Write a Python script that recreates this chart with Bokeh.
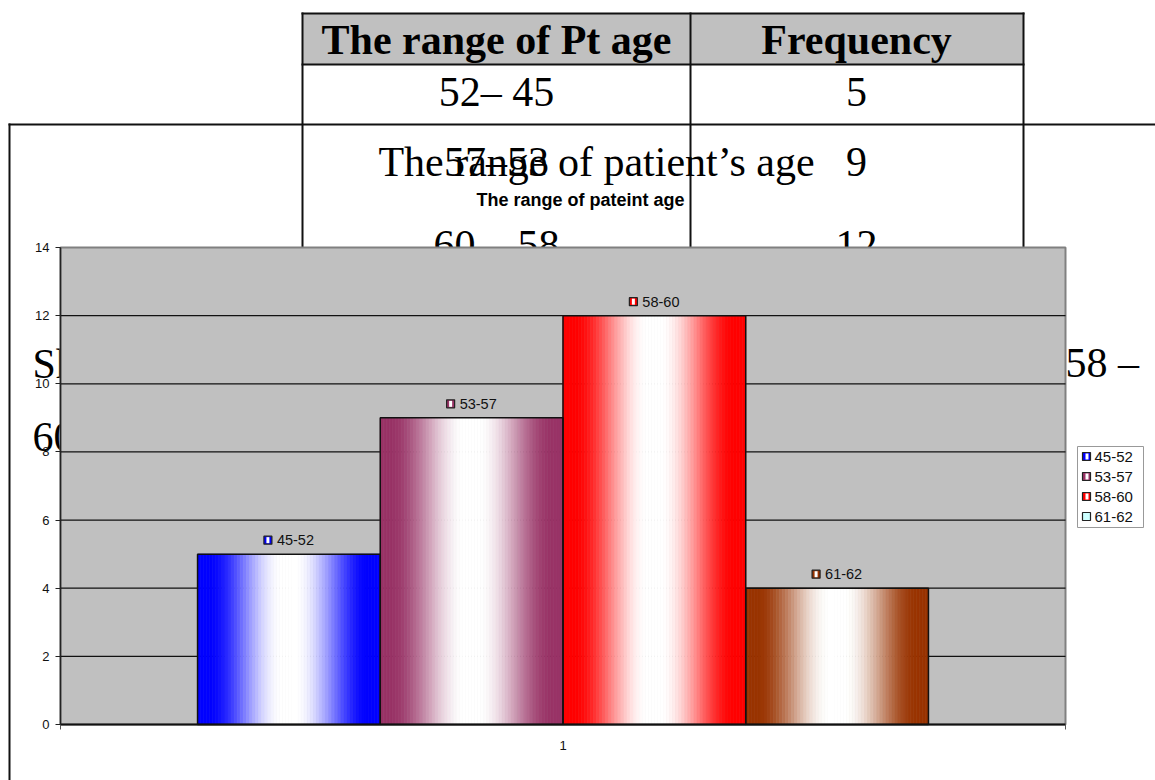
from bokeh.plotting import figure
from bokeh.models import FixedTicker, Range1d, LinearAxis
from bokeh.embed import file_html
from bokeh.resources import INLINE
from bokeh.core.properties import value

# ---------------- data ----------------
categories = ["45-52", "53-57", "58-60", "61-62"]
frequency = [5, 9, 12, 4]
bar_colors = ["#0000FF", "#993366", "#FF0000", "#993300"]
legend_colors = ["#0000FF", "#993366", "#FF0000", "#CCFFFF"]
x_category = [1]
x_category_labels = ["1"]
y_tick_values = [0, 2, 4, 6, 8, 10, 12, 14]

table_header = ["The range of Pt age", "Frequency"]
table_ranges = ["52\u2013 45", "57\u201353", "60 \u2013 58"]
table_freq = ["5", "9", "12"]
chart_title = "The range of patient\u2019s age"
chart_subtitle = "The range of pateint age"

SERIF = "Liberation Serif"
SANS = "Liberation Sans"

# ---------------- page geometry (pixels) ----------------
W, H = 1155, 780
PL, PR, PT, PB = 60, 1065, 247, 724        # plot area of the bar chart
Y_MAX = 14
X_LO, X_HI = 0.5, 1.5

n = len(categories)
gap = 1.5
bar_w = 1.0 / (n + gap)
offsets = [(i - (n - 1) / 2) * bar_w for i in range(n)]
centers = [x_category[0] + o for o in offsets]

p = figure(width=W, height=H, min_border=0,
           x_range=Range1d(0, W), y_range=Range1d(H, 0),
           x_axis_location=None, y_axis_location=None,
           output_backend="svg", toolbar_location=None, title=None)
p.outline_line_color = None
p.grid.visible = False
p.background_fill_color = "white"
p.border_fill_color = "white"

# scales of the bar chart placed inside the page
sx = (PR - PL) / (X_HI - X_LO)
sy = (PB - PT) / Y_MAX
p.extra_x_ranges = {"bx": Range1d(X_LO - PL / sx, X_HI + (W - PR) / sx)}
p.extra_y_ranges = {"by": Range1d(0 - (H - PB) / sy, Y_MAX + PT / sy)}
B = dict(x_range_name="bx", y_range_name="by")


def rect_px(x0, x1, y0, y1, fill, line=None, lw=1):
    p.quad(left=[x0], right=[x1], top=[y0], bottom=[y1], fill_color=fill,
           line_color=line, line_width=lw)


def text_px(x, y, s, size, font=SERIF, align="left", style="normal", color="#000000", baseline="alphabetic"):
    px = float(size.replace("px", ""))
    yoff = -round(0.34 * px) if baseline == "alphabetic" else 0
    p.text(x=[x], y=[y], text=[s], text_font=value(font), text_font_size=size, y_offset=yoff,
           text_align=align, text_baseline=baseline, text_font_style=style, text_color=color)


# ---------------- table behind the chart ----------------
rect_px(302, 1023, 13, 64, "#C0C0C0")
rect_px(301, 1024, 12, 14, "#111111")
rect_px(301, 1024, 63, 65, "#111111")
for xv in (302, 690, 1023):
    rect_px(xv - 1, xv + 1, 12, 260, "#111111")
text_px(496, 53, table_header[0], "42px", align="center", style="bold")
text_px(856, 53, table_header[1], "42px", align="center", style="bold")
row_baselines = [105, 175, 258]
for rb, tr, tf in zip(row_baselines, table_ranges, table_freq):
    text_px(496, rb, tr, "42px", align="center")
    text_px(856, rb, tf, "42px", align="center")

# chart border
rect_px(8, 1155, 123, 125, "#111111")
rect_px(8, 10, 123, 780, "#111111")

# titles
text_px(596, 175, chart_title, "42px", align="center")
text_px(580, 205, chart_subtitle, "18px", font=SANS, align="center", style="bold")

# text lying underneath the plot area
text_px(32, 377, "Sh", "42px")
text_px(32, 450, "60", "42px")
text_px(1065, 376, "58 \u2013", "42px")

# ---------------- bar chart ----------------
# plot area
p.quad(left=[X_LO], right=[X_HI], bottom=[0], top=[Y_MAX], fill_color="#C0C0C0",
       line_color="#808080", line_width=2, **B)
# gridlines
grid_vals = [v for v in y_tick_values if 0 < v < Y_MAX]
p.segment(x0=[X_LO] * len(grid_vals), x1=[X_HI] * len(grid_vals), y0=grid_vals, y1=grid_vals,
          line_color="#111111", line_width=1.2, **B)


def mix(c, t):
    r, g, b = int(c[1:3], 16), int(c[3:5], 16), int(c[5:7], 16)
    r = round(r + (255 - r) * t)
    g = round(g + (255 - g) * t)
    b = round(b + (255 - b) * t)
    return "#%02x%02x%02x" % (r, g, b)


N_STRIPS = 60
sl, sr, st, sc = [], [], [], []
for c, v, col in zip(centers, frequency, bar_colors):
    left = c - bar_w / 2
    for j in range(N_STRIPS):
        f = (j + 0.5) / N_STRIPS
        d = abs(f - 0.5)
        w = min(1.0, max(0.0, (0.44 - d) / 0.40))
        w = w * w * (3 - 2 * w)
        sl.append(left + j * bar_w / N_STRIPS)
        sr.append(left + (j + 1) * bar_w / N_STRIPS)
        st.append(v)
        sc.append(mix(col, w))
p.quad(left=sl, right=sr, top=st, bottom=[0] * len(st), fill_color=sc, line_color=sc,
       line_width=0.6, **B)
p.quad(left=[c - bar_w / 2 for c in centers], right=[c + bar_w / 2 for c in centers],
       top=frequency, bottom=[0] * n, fill_color=None, line_color="#111111", line_width=1.5, **B)

# data labels
icon_x = [c - 21 / sx for c in centers]
icon_y = [v + 14 / sy for v in frequency]
p.rect(x=icon_x, y=icon_y, width=8, height=8, width_units="screen", height_units="screen",
       fill_color=bar_colors, line_color="#222222", line_width=1.2, **B)
p.rect(x=icon_x, y=icon_y, width=3, height=6, width_units="screen", height_units="screen",
       fill_color="white", line_color=None, **B)
p.text(x=[c - 12 / sx for c in centers], y=frequency, text=categories,
       y_offset=-14, text_align="left", text_baseline="middle",
       text_font=value(SANS), text_font_size="14.5px", text_color="#111111", **B)

# axes of the bar chart
yax = LinearAxis(x_range_name="bx", y_range_name="by", fixed_location=X_LO, bounds=(0, Y_MAX),
                 ticker=FixedTicker(ticks=y_tick_values))
yax.major_tick_out = 5
yax.major_tick_in = 0
yax.minor_tick_line_color = None
yax.axis_line_color = "#222222"
yax.axis_line_width = 1.5
yax.major_tick_line_color = "#222222"
yax.major_label_standoff = 6
yax.major_label_text_font = SANS
yax.major_label_text_font_size = "13px"
yax.major_label_text_color = "#111111"
p.add_layout(yax, "left")

xax = LinearAxis(x_range_name="bx", y_range_name="by", fixed_location=0, bounds=(X_LO, X_HI),
                 ticker=FixedTicker(ticks=x_category, minor_ticks=[X_LO, X_HI]))
xax.major_label_overrides = {1: x_category_labels[0]}
xax.major_tick_out = 0
xax.major_tick_in = 0
xax.minor_tick_out = 5
xax.minor_tick_in = 0
xax.minor_tick_line_color = "#555555"
xax.axis_line_color = "#111111"
xax.axis_line_width = 2
xax.major_label_standoff = 11
xax.major_label_text_font = SANS
xax.major_label_text_font_size = "13px"
xax.major_label_text_color = "#111111"
p.add_layout(xax, "below")

# ---------------- legend ----------------
rect_px(1077, 1143, 446, 527, "white", line="#999999", lw=1)
leg_rows = [456, 476, 496, 516]
for yy, col, name in zip(leg_rows, legend_colors, categories):
    rect_px(1082, 1090, yy - 4, yy + 4, col, line="#222222", lw=1.2)
    if col != "#CCFFFF":
        rect_px(1085, 1088, yy - 3, yy + 3, "white")
    text_px(1094, yy, name, "15px", font=SANS, color="#111111", baseline="middle")

open("out.html", "w").write(file_html(p, INLINE))
